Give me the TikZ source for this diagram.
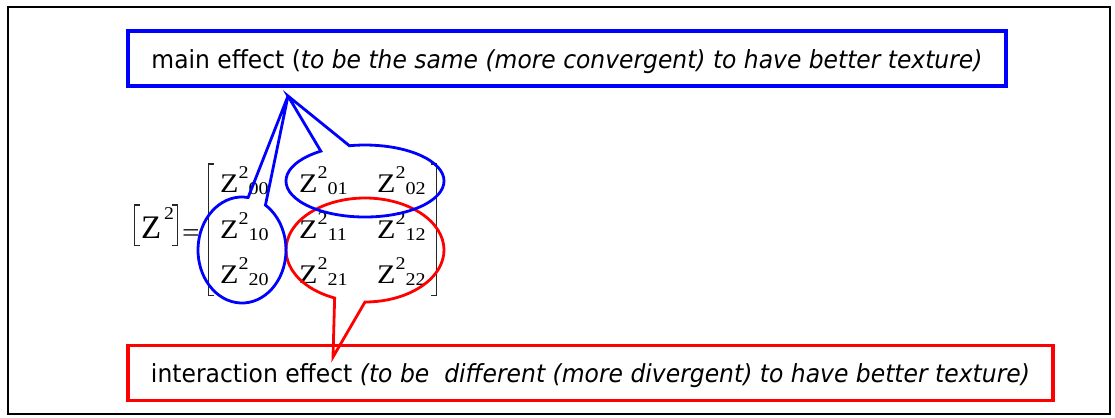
\documentclass[tikz,border=0pt]{standalone}
\usepackage{fontspec}
\setmainfont{Liberation Serif}
\newfontfamily\boxfont{DejaVu Sans}
\usepackage{graphicx}
\newcommand{\zent}[1]{\scalebox{1.12}[1]{\fontsize{27}{27}\selectfont Z\raisebox{14bp}{\fontsize{18}{18}\selectfont 2}\raisebox{-2.5bp}{\fontsize{18}{18}\selectfont #1}}}
\tikzset{
  ent/.style={anchor=base west, inner sep=0pt},
  boxlab/.style={line width=3.4bp, minimum height=55bp, inner sep=0pt, text height=21bp, text depth=2bp, font=\boxfont\fontsize{25}{25}\selectfont},
  bcall/.style={draw=blue, line width=2.8bp, line join=miter},
  rcall/.style={draw=red, line width=2.8bp, line join=miter},
  brk/.style={draw=black!85, line width=1.8bp},
}
\begin{document}
\begin{tikzpicture}[x=1bp,y=-1bp]
\useasboundingbox (0,0) rectangle (1115,417);
\draw[line width=2.2bp] (8,7) rectangle (1110,414);

% boxes
\node[boxlab, draw=blue, minimum width=878bp] (mainbox) at (567,58.5)
  {\resizebox{831bp}{\height}{main effect (\textit{to be the same (more convergent) to have better texture)}}};
\node[boxlab, draw=red, minimum width=925bp] (intbox) at (590.5,373)
  {\resizebox{879bp}{\height}{interaction effect \textit{(to be~ different (more divergent) to have better texture)}}};

% left hand side [Z^2] =
\draw[brk] (140,205) -- (134.5,205) -- (134.5,245.5) -- (140,245.5);
\node[ent] (lz) at (141,238) {\fontsize{33}{33}\selectfont Z};
\node[ent] (l2) at (164,219) {\scalebox{1.1}[1]{\fontsize{18}{18}\selectfont 2}};
\draw[brk] (172,205) -- (177.5,205) -- (177.5,245.5) -- (172,245.5);
\node[ent] (eq) at (182,241) {\scalebox{1.2}[1]{\fontsize{26}{26}\selectfont =}};

% matrix brackets
\draw[brk] (214,164) -- (208.5,164) -- (208.5,295.5) -- (214,295.5);
\draw[brk] (431,164) -- (436.5,164) -- (436.5,295.5) -- (431,295.5);

% entries
\node[ent] (z00) at (220,192) {\zent{00}};
\node[ent] (z01) at (299,192) {\zent{01}};
\node[ent] (z02) at (377,192) {\zent{02}};
\node[ent] (z10) at (220,238) {\zent{10}};
\node[ent] (z11) at (299,238) {\zent{11}};
\node[ent] (z12) at (377,238) {\zent{12}};
\node[ent] (z20) at (220,283) {\zent{20}};
\node[ent] (z21) at (299,283) {\zent{21}};
\node[ent] (z22) at (377,283) {\zent{22}};

% callouts
\coordinate (mtip) at (288,96);
\coordinate (itip) at (333,357);
\draw[rcall] (365,250) ++(112.6:79 and 52) arc[start angle=112.6, end angle=450, x radius=79, y radius=52] -- (itip) -- cycle;
\draw[bcall] (365,181) ++(236:79 and 36) arc[start angle=236, end angle=-101.4, x radius=79, y radius=36] -- (mtip) -- cycle;
\draw[bcall] (242,250) ++(-82:44 and 53) arc[start angle=-82, end angle=-417.8, x radius=44, y radius=53] -- (mtip) -- cycle;
\end{tikzpicture}
\end{document}
